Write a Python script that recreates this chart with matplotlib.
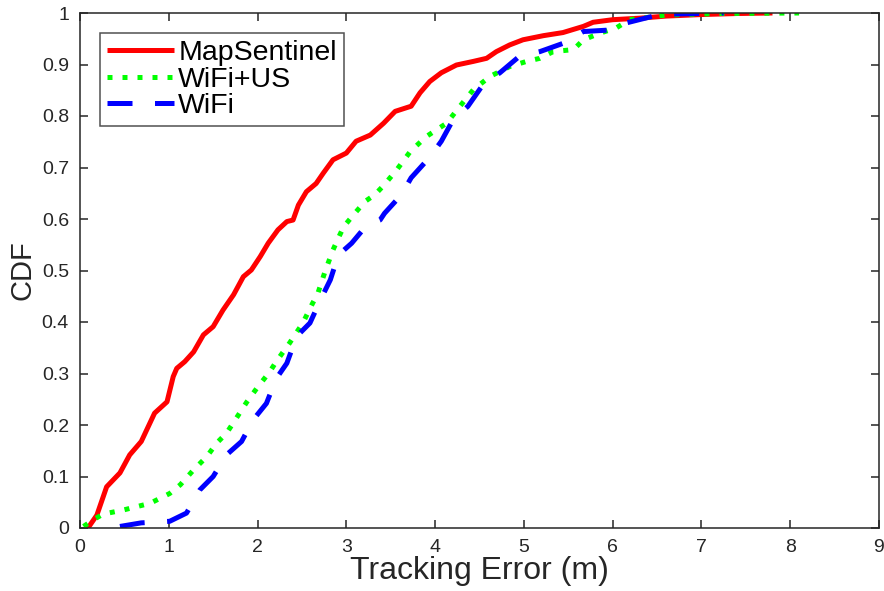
import matplotlib
matplotlib.use("Agg")
import matplotlib.pyplot as plt

# ---- data ----
map_x = [0.09, 0.19, 0.30, 0.45, 0.56, 0.69, 0.84, 0.98, 1.05, 1.09, 1.18, 1.28, 1.39, 1.50,
         1.61, 1.73, 1.84, 1.93, 2.03, 2.12, 2.23, 2.33, 2.40, 2.46, 2.55, 2.66, 2.74, 2.85,
         3.00, 3.11, 3.27, 3.42, 3.55, 3.73, 3.83, 3.94, 4.07, 4.24, 4.43, 4.58, 4.69, 4.84,
         4.99, 5.22, 5.44, 5.67, 5.78, 6.00, 6.31, 6.60, 7.00, 7.40, 7.80]
map_y = [0.000, 0.025, 0.080, 0.107, 0.142, 0.168, 0.223, 0.245, 0.294, 0.310, 0.323, 0.342,
         0.375, 0.391, 0.423, 0.453, 0.488, 0.501, 0.527, 0.553, 0.579, 0.595, 0.598, 0.627,
         0.653, 0.669, 0.689, 0.715, 0.728, 0.751, 0.763, 0.786, 0.809, 0.819, 0.845, 0.867,
         0.884, 0.899, 0.906, 0.912, 0.925, 0.938, 0.948, 0.956, 0.962, 0.974, 0.982, 0.987,
         0.990, 0.994, 0.997, 0.999, 1.000]

wus_x = [0.04, 0.15, 0.26, 0.49, 0.79, 1.01, 1.13, 1.28, 1.43, 1.54, 1.65, 1.76, 1.88, 1.99,
         2.14, 2.21, 2.36, 2.51, 2.61, 2.68, 2.76, 2.85, 2.91, 2.97, 3.08, 3.21, 3.32, 3.42,
         3.57, 3.72, 3.90, 4.13, 4.28, 4.43, 4.62, 4.84, 5.03, 5.18, 5.33, 5.56, 5.67, 5.86,
         6.04, 6.19, 6.60, 7.20, 8.10]
wus_y = [0.003, 0.016, 0.027, 0.035, 0.048, 0.067, 0.084, 0.113, 0.139, 0.165, 0.184, 0.213,
         0.245, 0.271, 0.304, 0.323, 0.359, 0.398, 0.433, 0.456, 0.498, 0.540, 0.563, 0.585,
         0.608, 0.634, 0.647, 0.665, 0.696, 0.731, 0.760, 0.786, 0.819, 0.851, 0.877, 0.896,
         0.906, 0.912, 0.925, 0.929, 0.948, 0.961, 0.971, 0.987, 0.996, 0.999, 1.000]

wifi_x = [0.45, 0.69, 1.01, 1.20, 1.35, 1.50, 1.65, 1.82, 1.95, 2.10, 2.21, 2.33, 2.44, 2.59,
          2.72, 2.82, 2.91, 3.06, 3.23, 3.38, 3.43, 3.62, 3.73, 3.94, 4.07, 4.20, 4.37, 4.54,
          4.73, 4.95, 5.18, 5.44, 5.67, 5.97, 6.16, 6.46, 6.68, 7.25]
wifi_y = [0.003, 0.010, 0.013, 0.029, 0.074, 0.100, 0.142, 0.168, 0.210, 0.242, 0.290, 0.320,
          0.372, 0.398, 0.447, 0.482, 0.530, 0.553, 0.588, 0.598, 0.611, 0.647, 0.680, 0.720,
          0.751, 0.792, 0.819, 0.861, 0.884, 0.916, 0.925, 0.941, 0.964, 0.967, 0.981, 0.994,
          0.998, 1.000]

labels = ["MapSentinel", "WiFi+US", "WiFi"]
x_ticks = list(range(0, 10))
y_ticks = [0, 0.1, 0.2, 0.3, 0.4, 0.5, 0.6, 0.7, 0.8, 0.9, 1]
y_ticklabels = ["0", "0.1", "0.2", "0.3", "0.4", "0.5", "0.6", "0.7", "0.8", "0.9", "1"]

plt.rcParams['font.family'] = ['Liberation Sans', 'DejaVu Sans']

fig = plt.figure(figsize=(8.84, 5.91), dpi=100)
ax = fig.add_axes([80/884, 1-528/591, 799/884, 515/591])

lw = 3.6
ax.plot(map_x, map_y, color=(1, 0, 0), lw=lw, solid_capstyle='butt', label=labels[0])
ax.plot(wus_x, wus_y, color=(0, 1, 0), lw=lw, linestyle=(0, (1, 2)),
        dash_capstyle='butt', label=labels[1])
ax.plot(wifi_x, wifi_y, color=(0, 0, 1), lw=lw, linestyle=(0, (5, 4.5)),
        dash_capstyle='butt', label=labels[2])

ax.set_xlim(0, 9)
ax.set_ylim(0, 1)
ax.set_xticks(x_ticks)
ax.set_xticklabels([str(t) for t in x_ticks])
ax.set_yticks(y_ticks)
ax.set_yticklabels(y_ticklabels)

dark = '#262626'
for s in ax.spines.values():
    s.set_color(dark)
    s.set_linewidth(1.1)
ax.tick_params(direction='in', length=6, width=1.1, color=dark, labelcolor=dark,
               labelsize=14, top=True, right=True, pad=8)

ax.set_xlabel("Tracking Error (m)", fontsize=23, color=dark, labelpad=0)
ax.set_ylabel("CDF", fontsize=21, color=dark, labelpad=4)

leg = ax.legend(loc='upper left', bbox_to_anchor=(0.025, 0.961), borderaxespad=0,
                fontsize=20.5, frameon=True, fancybox=False, edgecolor=dark,
                handlelength=2.35, handletextpad=0.15, labelspacing=0.02,
                borderpad=0.25)
leg.get_frame().set_linewidth(1.1)

fig.savefig("out.png", dpi=100)
